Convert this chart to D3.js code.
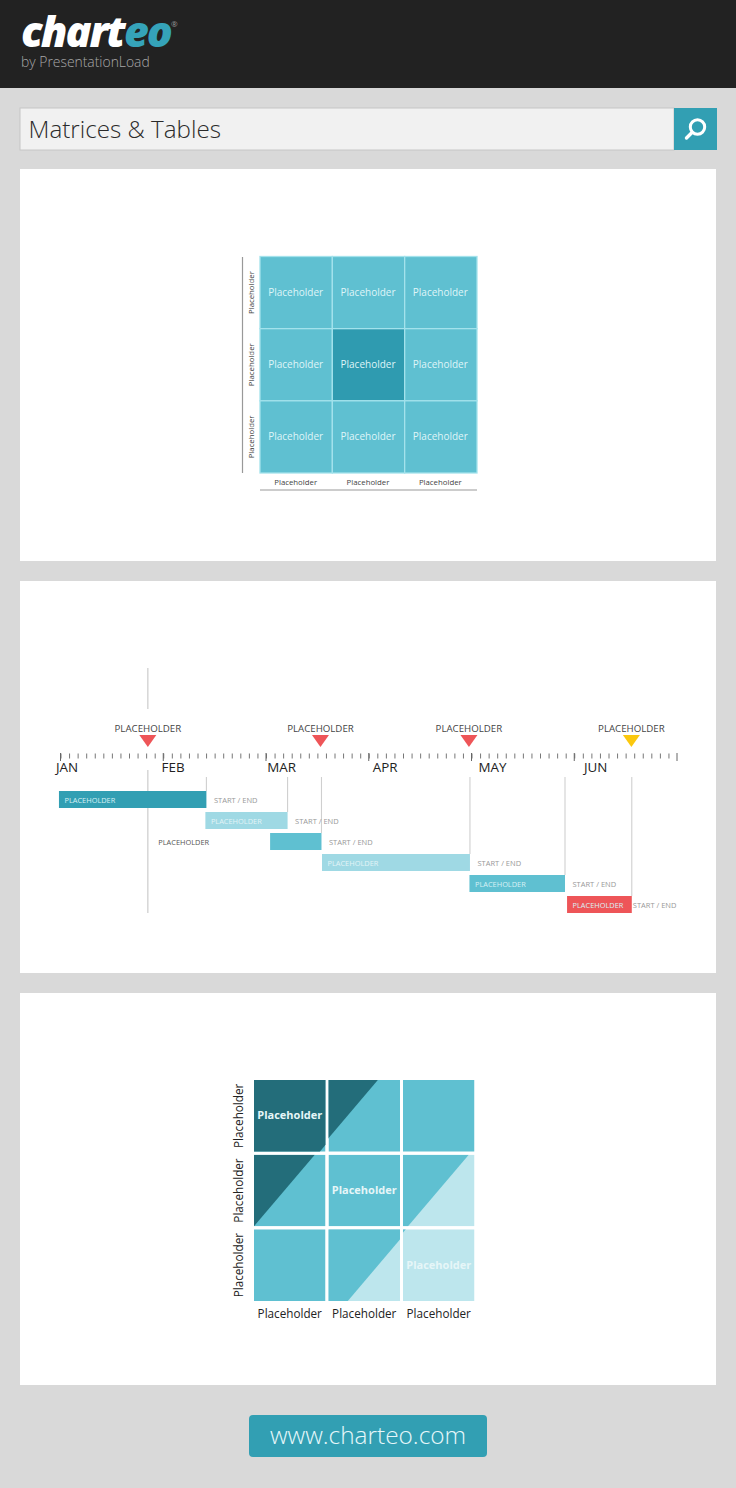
<!DOCTYPE html>
<html>
<head>
<meta charset="utf-8">
<script src="https://cdn.jsdelivr.net/npm/d3@7/dist/d3.min.js"></script>
<style>
  html, body { margin: 0; padding: 0; background: #d9d9d9; }
  svg { display: block; }
  text { font-family: "Open Sans", "Noto Sans", sans-serif; }
</style>
</head>
<body>
<div id="chart"></div>
<script>
// first matrix
var gridRows = [0, 1, 2];
var gridCols = [0, 1, 2];
var gridLabel = "Placeholder";
var highlightCell = [1, 1];

// timeline, all positions in months from the start of JAN
var monthLabels = ["JAN", "FEB", "MAR", "APR", "MAY", "JUN"];
var markerMonths = [0.85, 2.53, 3.975, 5.556];
var markerTones = ["red", "red", "red", "yellow"];
var milestoneMonth = 0.85;
var barStart = [-0.015, 1.41, 2.04, 2.545, 3.98, 4.93];
var barEnd = [1.42, 2.21, 2.54, 3.985, 4.91, 5.56];
var barTones = ["dark", "light", "mid", "light", "mid", "red"];

// second matrix, top edge of the diagonal as a share of the cell width
var splitTop = [[1.77, 0.69, null], [0.85, null, 0.92], [null, 1.12, 0.04]];
var upperTones = [["deep", "deep", "mid"], ["deep", "mid", "mid"], ["mid", "mid", "mid"]];
var lowerTones = [["mid", "mid", "mid"], ["mid", "mid", "pale"], ["mid", "pale", "pale"]];
var boldCells = [[0, 0], [1, 1], [2, 2]];

var colors = {
  dark: "#329fb3", light: "#9fd9e4", mid: "#5fc0d1", red: "#ee5558",
  yellow: "#fbc80e", deep: "#236d7a", pale: "#bde6ed"
};

var svg = d3.select("#chart")
  .append("svg")
  .attr("width", 736)
  .attr("height", 1488)
  .attr("viewBox", "0 0 736 1488");

// page frame
svg.append("rect").attr("width", 736).attr("height", 1488).attr("fill", "#d9d9d9");
svg.append("rect").attr("width", 736).attr("height", 88).attr("fill", "#222222");

var logo = svg.append("text")
  .attr("x", 21)
  .attr("y", 47)
  .attr("font-size", 43)
  .attr("font-weight", 800)
  .attr("font-style", "italic")
  .attr("letter-spacing", -2);
logo.append("tspan").attr("fill", "#ffffff").text("chart");
logo.append("tspan").attr("fill", "#35a3b9").text("eo");

svg.append("text")
  .attr("x", 171).attr("y", 27)
  .attr("font-size", 8)
  .attr("fill", "#9a9a9a")
  .text("®");

svg.append("text")
  .attr("x", 21).attr("y", 67)
  .attr("font-size", 13.9)
  .attr("font-weight", 300)
  .attr("fill", "#a8a8a8")
  .text("by PresentationLoad");

// search bar
svg.append("rect")
  .attr("x", 20).attr("y", 108)
  .attr("width", 654).attr("height", 42)
  .attr("fill", "#f1f1f1")
  .attr("stroke", "#c6c6c6");

svg.append("text")
  .attr("x", 28.5).attr("y", 138)
  .attr("font-size", 24.2)
  .attr("font-weight", 300)
  .attr("fill", "#2a2a2a")
  .text("Matrices & Tables");

svg.append("rect")
  .attr("x", 674).attr("y", 108)
  .attr("width", 43).attr("height", 42)
  .attr("fill", "#329fb3");

svg.append("circle")
  .attr("cx", 697.5).attr("cy", 127).attr("r", 7.2)
  .attr("fill", "none").attr("stroke", "#ffffff").attr("stroke-width", 3);

svg.append("line")
  .attr("x1", 692).attr("y1", 132.5).attr("x2", 686.5).attr("y2", 138)
  .attr("stroke", "#ffffff").attr("stroke-width", 3.4).attr("stroke-linecap", "round");

// white panels
svg.selectAll(".panel")
  .data([169, 581, 993])
  .enter()
  .append("rect")
  .attr("class", "panel")
  .attr("x", 20)
  .attr("y", d => d)
  .attr("width", 696)
  .attr("height", 392)
  .attr("fill", "#ffffff");

// footer button
svg.append("rect")
  .attr("x", 249).attr("y", 1415)
  .attr("width", 238).attr("height", 42)
  .attr("rx", 4)
  .attr("fill", "#329fb3");

svg.append("text")
  .attr("x", 368).attr("y", 1444)
  .attr("text-anchor", "middle")
  .attr("font-size", 24.4)
  .attr("font-weight", 300)
  .attr("fill", "#e6f7fa")
  .text("www.charteo.com");

// ---- first matrix ----
var gridX = d3.scaleBand().domain(gridCols).range([260, 477]);
var gridY = d3.scaleBand().domain(gridRows).range([256.5, 473]);
var gridCells = d3.cross(gridRows, gridCols);

var grid = svg.append("g");

grid.selectAll("rect")
  .data(gridCells)
  .enter()
  .append("rect")
  .attr("x", d => gridX(d[1]))
  .attr("y", d => gridY(d[0]))
  .attr("width", gridX.bandwidth())
  .attr("height", gridY.bandwidth())
  .attr("fill", d => (d[0] === highlightCell[0] && d[1] === highlightCell[1]) ? "#2f9bb0" : colors.mid)
  .attr("stroke", "#a3e2ec")
  .attr("stroke-width", 1.3);

grid.selectAll("text")
  .data(gridCells)
  .enter()
  .append("text")
  .attr("x", d => gridX(d[1]) + gridX.bandwidth() / 2 - 0.5)
  .attr("y", d => gridY(d[0]) + gridY.bandwidth() / 2 + 3)
  .attr("text-anchor", "middle")
  .attr("font-size", 10)
  .attr("fill", "#dff5f8")
  .text(gridLabel);

grid.selectAll(".col-label")
  .data(gridCols)
  .enter()
  .append("text")
  .attr("class", "col-label")
  .attr("x", d => gridX(d) + gridX.bandwidth() / 2 - 0.5)
  .attr("y", 484.5)
  .attr("text-anchor", "middle")
  .attr("font-size", 7.8)
  .attr("fill", "#444444")
  .text(gridLabel);

grid.selectAll(".row-label")
  .data(gridRows)
  .enter()
  .append("text")
  .attr("class", "row-label")
  .attr("transform", d => `translate(254, ${gridY(d) + gridY.bandwidth() / 2}) rotate(-90)`)
  .attr("text-anchor", "middle")
  .attr("font-size", 7.8)
  .attr("fill", "#444444")
  .text(gridLabel);

grid.append("line")
  .attr("x1", 242.5).attr("x2", 242.5).attr("y1", 257).attr("y2", 473)
  .attr("stroke", "#999999")
  .attr("stroke-width", 1.2);

grid.append("line")
  .attr("x1", 260).attr("x2", 477).attr("y1", 490).attr("y2", 490)
  .attr("stroke", "#999999")
  .attr("stroke-width", 1.2);

// ---- timeline ----
var timeX = d3.scaleLinear().domain([0, 6]).range([60.5, 677]);
var labelX = d3.scaleLinear().domain([0, 5]).range([56, 584]);
var rowY = d3.scalePoint().domain(d3.range(barStart.length)).range([791, 896]);
var barHeight = 17;

var timeline = svg.append("g");

// first milestone line, broken around the labels
timeline.selectAll(".milestone")
  .data([[668, 709], [770, 913]])
  .enter()
  .append("line")
  .attr("class", "milestone")
  .attr("x1", timeX(milestoneMonth))
  .attr("x2", timeX(milestoneMonth))
  .attr("y1", d => d[0])
  .attr("y2", d => d[1])
  .attr("stroke", "#cfcfcf")
  .attr("stroke-width", 1.3);

// drop lines from the axis to the end of each bar
timeline.selectAll(".drop")
  .data(d3.range(barEnd.length))
  .enter()
  .append("line")
  .attr("class", "drop")
  .attr("x1", i => timeX(barEnd[i]))
  .attr("x2", i => timeX(barEnd[i]))
  .attr("y1", 777)
  .attr("y2", i => rowY(i))
  .attr("stroke", "#cfcfcf")
  .attr("stroke-width", 1.1);

// month axis with twelve minor ticks per month
var minorTicks = d3.range(0, 72).map(d => d / 12);
var monthAxis = d3.axisBottom(timeX)
  .tickValues(minorTicks)
  .tickSize(5)
  .tickFormat("");

var axisGroup = timeline.append("g")
  .attr("transform", "translate(0, 753.5)")
  .call(monthAxis);
axisGroup.select(".domain").remove();
axisGroup.selectAll(".tick line").attr("stroke", "#777777");

timeline.append("g")
  .selectAll("line")
  .data(d3.range(0, 7))
  .enter()
  .append("line")
  .attr("x1", d => timeX(d))
  .attr("x2", d => timeX(d))
  .attr("y1", 753)
  .attr("y2", 761)
  .attr("stroke", "#666666");

timeline.selectAll(".month")
  .data(monthLabels)
  .enter()
  .append("text")
  .attr("class", "month")
  .attr("x", (d, i) => labelX(i))
  .attr("y", 772)
  .attr("font-size", 13.4)
  .attr("fill", "#222222")
  .text(d => d);

// markers
timeline.selectAll(".marker")
  .data(markerMonths)
  .enter()
  .append("path")
  .attr("class", "marker")
  .attr("d", d => `M${timeX(d) - 8.5},735 L${timeX(d) + 8.5},735 L${timeX(d)},747 Z`)
  .attr("fill", (d, i) => colors[markerTones[i]]);

timeline.selectAll(".marker-label")
  .data(markerMonths)
  .enter()
  .append("text")
  .attr("class", "marker-label")
  .attr("x", d => timeX(d))
  .attr("y", 732)
  .attr("text-anchor", "middle")
  .attr("font-size", 9.7)
  .attr("fill", "#444444")
  .text("PLACEHOLDER");

// bars
timeline.selectAll(".bar")
  .data(d3.range(barStart.length))
  .enter()
  .append("rect")
  .attr("class", "bar")
  .attr("x", i => timeX(barStart[i]))
  .attr("y", i => rowY(i))
  .attr("width", i => timeX(barEnd[i]) - timeX(barStart[i]))
  .attr("height", barHeight)
  .attr("fill", i => colors[barTones[i]]);

timeline.selectAll(".bar-label")
  .data(d3.range(barStart.length))
  .enter()
  .append("text")
  .attr("class", "bar-label")
  .attr("x", i => i === 2 ? timeX(barStart[i]) - 61 : timeX(barStart[i]) + 5.5)
  .attr("y", i => rowY(i) + barHeight / 2 + 3)
  .attr("text-anchor", i => i === 2 ? "end" : "start")
  .attr("font-size", 7.4)
  .attr("fill", i => i === 2 ? "#555555" : (barTones[i] === "light" ? "#e3f4f7" : "#d8f1f5"))
  .text("PLACEHOLDER");

timeline.selectAll(".date-label")
  .data(d3.range(barEnd.length))
  .enter()
  .append("text")
  .attr("class", "date-label")
  .attr("x", i => timeX(barEnd[i]) + (i === 5 ? 1 : 7.5))
  .attr("y", i => rowY(i) + barHeight / 2 + 3)
  .attr("font-size", 7.5)
  .attr("fill", "#999999")
  .text("START / END");

// ---- second matrix ----
var cellX = d3.scaleBand().domain(gridCols).range([254, 474.5]).paddingInner(0.04);
var cellY = d3.scaleBand().domain(gridRows).range([1080, 1301]).paddingInner(0.04);
var cellSize = cellX.bandwidth();
var splitSlope = 0.85;

var matrix = svg.append("g");
var defs = svg.append("defs");

gridCells.forEach(function (d) {
  var r = d[0], c = d[1];
  var x0 = cellX(c), y0 = cellY(r);
  var id = `cell-${r}-${c}`;

  defs.append("clipPath")
    .attr("id", id)
    .append("rect")
    .attr("x", x0)
    .attr("y", y0)
    .attr("width", cellSize)
    .attr("height", cellY.bandwidth());

  var cell = matrix.append("g").attr("clip-path", `url(#${id})`);

  cell.append("rect")
    .attr("x", x0)
    .attr("y", y0)
    .attr("width", cellSize)
    .attr("height", cellY.bandwidth())
    .attr("fill", colors[lowerTones[r][c]]);

  if (splitTop[r][c] !== null) {
    var top = x0 + splitTop[r][c] * cellSize;
    var bottom = x0 + (splitTop[r][c] - splitSlope) * cellSize;
    var yEnd = y0 + cellY.bandwidth();
    cell.append("path")
      .attr("d", `M${x0 - cellSize},${y0} L${top},${y0} L${bottom},${yEnd} L${x0 - cellSize},${yEnd} Z`)
      .attr("fill", colors[upperTones[r][c]]);
  }
});

matrix.selectAll(".bold-label")
  .data(boldCells)
  .enter()
  .append("text")
  .attr("class", "bold-label")
  .attr("x", d => cellX(d[1]) + cellSize / 2)
  .attr("y", d => cellY(d[0]) + cellY.bandwidth() / 2 + 3.5)
  .attr("text-anchor", "middle")
  .attr("font-size", 11)
  .attr("font-weight", 700)
  .attr("fill", "#e6f6f8")
  .text(gridLabel);

matrix.selectAll(".col-label")
  .data(gridCols)
  .enter()
  .append("text")
  .attr("class", "col-label")
  .attr("x", d => cellX(d) + cellSize / 2)
  .attr("y", 1318)
  .attr("text-anchor", "middle")
  .attr("font-size", 11.7)
  .attr("fill", "#222222")
  .text(gridLabel);

matrix.selectAll(".row-label")
  .data(gridRows)
  .enter()
  .append("text")
  .attr("class", "row-label")
  .attr("transform", d => `translate(242.5, ${cellY(d) + cellY.bandwidth() / 2}) rotate(-90)`)
  .attr("text-anchor", "middle")
  .attr("font-size", 11.7)
  .attr("fill", "#222222")
  .text(gridLabel);
</script>
</body>
</html>
